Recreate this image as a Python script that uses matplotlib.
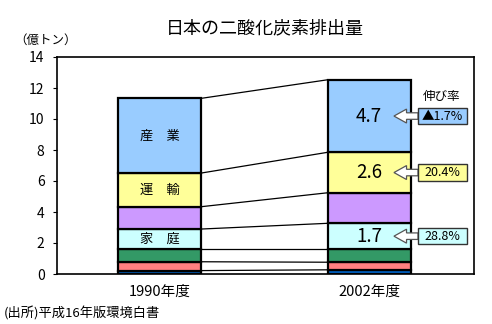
import matplotlib
matplotlib.use("Agg")
import matplotlib.pyplot as plt
from matplotlib.patches import FancyArrow, Rectangle
import numpy as np

plt.rcParams['font.family'] = ['Noto Sans CJK JP', 'DejaVu Sans']

years = ["1990年度", "2002年度"]
# sectors from bottom to top
sectors = ["廃棄物", "工業プロセス", "エネルギー転換", "家庭", "業務その他", "運輸", "産業"]
v1990 = [0.22, 0.57, 0.82, 1.29, 1.44, 2.17, 4.82]
v2002 = [0.27, 0.49, 0.85, 1.66, 1.97, 2.61, 4.68]
colors = ["#0066CC", "#FF8080", "#339966", "#CCFFFF", "#CC99FF", "#FFFF99", "#99CCFF"]
labels1990 = {"産業": "産　業", "運輸": "運　輸", "家庭": "家　庭"}
labels2002 = {"産業": "4.7", "運輸": "2.6", "家庭": "1.7"}
growth = {"産業": "▲1.7%", "運輸": "20.4%", "家庭": "28.8%"}
yticks = [0, 2, 4, 6, 8, 10, 12, 14]

fig = plt.figure(figsize=(4.92, 3.24), dpi=100)
ax = fig.add_axes([57/492, 1-274/324, (474-57)/492, (274-57)/324])

width = 0.396
x = np.arange(2)
b1 = np.concatenate([[0], np.cumsum(v1990)])
b2 = np.concatenate([[0], np.cumsum(v2002)])
box_x0, box_x1 = 1.234, 1.468
box_h = 1.05
for i, s in enumerate(sectors):
    ax.bar(x, [v1990[i], v2002[i]], width, bottom=[b1[i], b2[i]],
           color=colors[i], edgecolor="black", linewidth=1.6, zorder=3)
    # connector lines
    ax.plot([x[0]+width/2, x[1]-width/2], [b1[i+1], b2[i+1]], color="black", lw=0.9, zorder=2)
    if s in labels1990:
        ax.text(x[0], (b1[i]+b1[i+1])/2, labels1990[s], ha="center", va="center",
                fontsize=9.5, zorder=4)
    if s in labels2002:
        ymid = (b2[i]+b2[i+1])/2
        ax.text(x[1], ymid, labels2002[s], ha="center", va="center",
                fontsize=13.5, zorder=4)
        # callout box
        ax.add_patch(Rectangle((box_x0, ymid-box_h/2), box_x1-box_x0, box_h,
                               fc=colors[i], ec="#333333", lw=1.0, zorder=5,
                               clip_on=False))
        ax.text((box_x0+box_x1)/2, ymid, growth[s], ha="center", va="center",
                fontsize=9, zorder=6)
        ax.add_patch(FancyArrow(box_x0, ymid, -0.115, 0, width=0.42, head_width=0.9,
                                head_length=0.06, fc="white", ec="#555555", lw=0.9,
                                length_includes_head=True, zorder=4))

ax.text(1.348, 11.45, "伸び率", ha="center", va="center", fontsize=9)

ax.set_xlim(-0.489, 1.501)
ax.set_ylim(0, 14)
ax.set_yticks(yticks)
ax.set_yticklabels([str(t) for t in yticks], fontsize=10)
ax.set_xticks(x)
ax.set_xticklabels(years, fontsize=10.5)
ax.tick_params(axis="x", length=0, pad=8)
ax.tick_params(axis="y", length=3, direction="out", pad=6)
for sp in ax.spines.values():
    sp.set_linewidth(1.2)

fig.text(265/492, 1-28/324, "日本の二酸化炭素排出量", ha="center", va="center", fontsize=13)
fig.text(14/492, 1-40/324, "（億トン）", ha="left", va="center", fontsize=9)
fig.text(4/492, 1-313/324, "(出所)平成16年版環境白書", ha="left", va="center", fontsize=9.5)

fig.savefig("out.png", dpi=100)
